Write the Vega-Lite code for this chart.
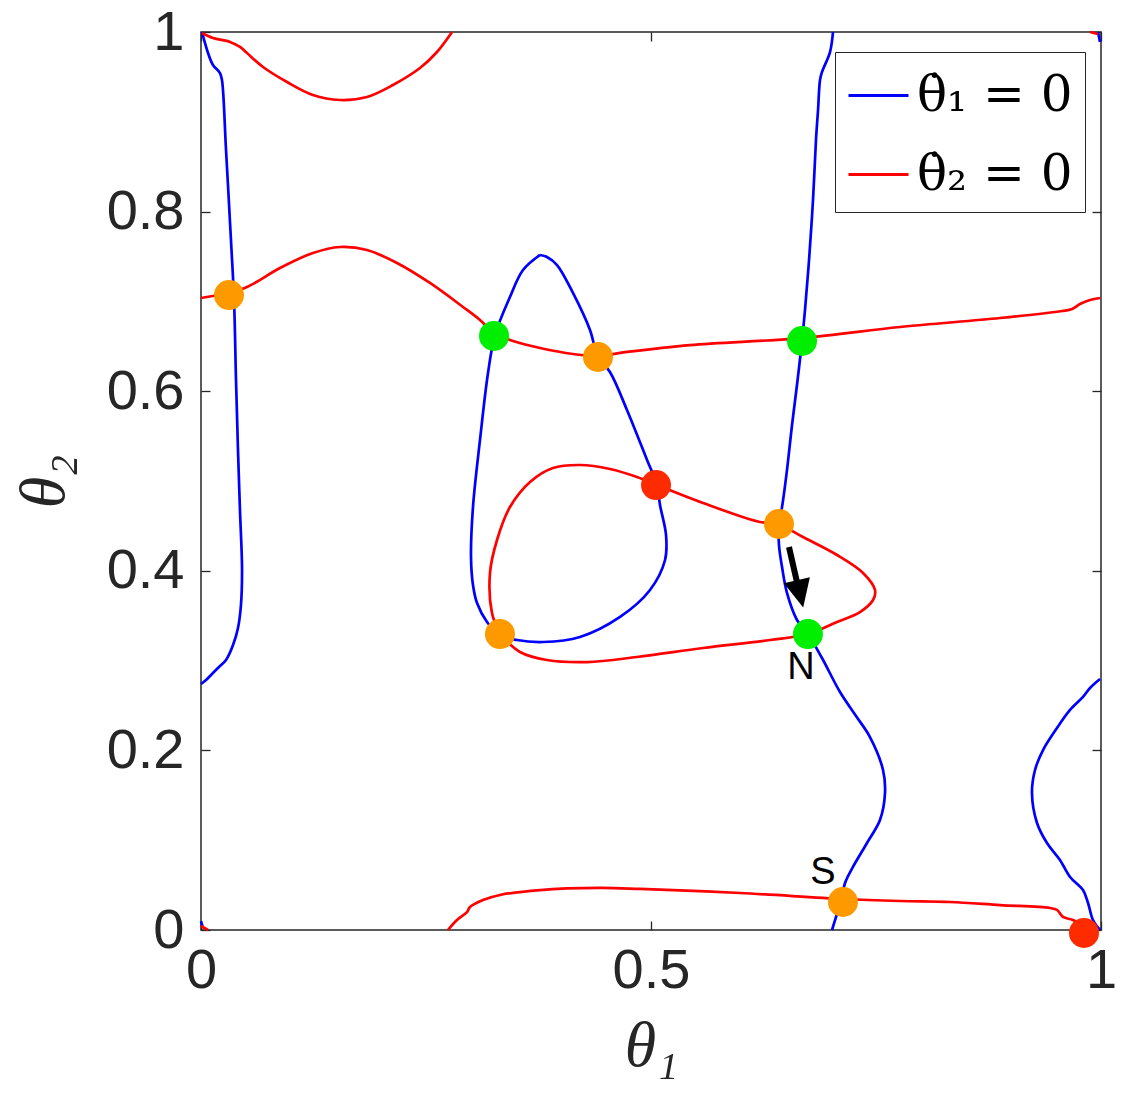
{
  "$schema": "https://vega.github.io/schema/vega-lite/v6.json",
  "width": 900,
  "height": 898,
  "autosize": {"type": "none"},
  "padding": {"left": 201, "top": 32, "right": 24, "bottom": 171},
  "background": "white",
  "config": {"view": {"stroke": "#262626", "strokeWidth": 1.5}},
  "datasets": {
    "curves": [
      {"c":"b","s":"b1","x":0.0011,"y":1.0},{"c":"b","s":"b1","x":0.0044,"y":0.9878},{"c":"b","s":"b1","x":0.0078,"y":0.9766},{"c":"b","s":"b1","x":0.0133,"y":0.9633},{"c":"b","s":"b1","x":0.0211,"y":0.9543},{"c":"b","s":"b1","x":0.0233,"y":0.9465},{"c":"b","s":"b1","x":0.0278,"y":0.8686},{"c":"b","s":"b1","x":0.0333,"y":0.7684},{"c":"b","s":"b1","x":0.0367,"y":0.7016},{"c":"b","s":"b1","x":0.0389,"y":0.6125},{"c":"b","s":"b1","x":0.0411,"y":0.5345},{"c":"b","s":"b1","x":0.0433,"y":0.4677},{"c":"b","s":"b1","x":0.0456,"y":0.4009},{"c":"b","s":"b1","x":0.0444,"y":0.3619},{"c":"b","s":"b1","x":0.0411,"y":0.3363},{"c":"b","s":"b1","x":0.0356,"y":0.3174},{"c":"b","s":"b1","x":0.0278,"y":0.3007},{"c":"b","s":"b1","x":0.0200,"y":0.2929},{"c":"b","s":"b1","x":0.0122,"y":0.2851},{"c":"b","s":"b1","x":0.0056,"y":0.2784},{"c":"b","s":"b1","x":0.0,"y":0.2739},
      {"c":"b","s":"b2","x":0.3767,"y":0.7517},{"c":"b","s":"b2","x":0.3578,"y":0.7350},{"c":"b","s":"b2","x":0.3433,"y":0.7049},{"c":"b","s":"b2","x":0.3267,"y":0.6626},{"c":"b","s":"b2","x":0.3189,"y":0.6203},{"c":"b","s":"b2","x":0.3100,"y":0.5457},{"c":"b","s":"b2","x":0.3022,"y":0.4710},{"c":"b","s":"b2","x":0.3000,"y":0.4154},{"c":"b","s":"b2","x":0.3022,"y":0.3842},{"c":"b","s":"b2","x":0.3067,"y":0.3641},{"c":"b","s":"b2","x":0.3178,"y":0.3430},{"c":"b","s":"b2","x":0.3322,"y":0.3285},{"c":"b","s":"b2","x":0.3511,"y":0.3229},{"c":"b","s":"b2","x":0.3800,"y":0.3207},{"c":"b","s":"b2","x":0.4211,"y":0.3263},{"c":"b","s":"b2","x":0.4656,"y":0.3486},{"c":"b","s":"b2","x":0.4989,"y":0.3786},{"c":"b","s":"b2","x":0.5156,"y":0.4120},{"c":"b","s":"b2","x":0.5167,"y":0.4399},{"c":"b","s":"b2","x":0.5100,"y":0.4733},{"c":"b","s":"b2","x":0.5067,"y":0.4955},{"c":"b","s":"b2","x":0.4956,"y":0.5234},{"c":"b","s":"b2","x":0.4733,"y":0.5791},{"c":"b","s":"b2","x":0.4544,"y":0.6214},{"c":"b","s":"b2","x":0.4411,"y":0.6381},{"c":"b","s":"b2","x":0.4322,"y":0.6682},{"c":"b","s":"b2","x":0.4133,"y":0.7094},{"c":"b","s":"b2","x":0.3956,"y":0.7405},{"c":"b","s":"b2","x":0.3844,"y":0.7494},{"c":"b","s":"b2","x":0.3767,"y":0.7517},
      {"c":"b","s":"b3","x":0.7022,"y":1.0},{"c":"b","s":"b3","x":0.6989,"y":0.9777},{"c":"b","s":"b3","x":0.6900,"y":0.9555},{"c":"b","s":"b3","x":0.6878,"y":0.9465},{"c":"b","s":"b3","x":0.6856,"y":0.9131},{"c":"b","s":"b3","x":0.6833,"y":0.8797},{"c":"b","s":"b3","x":0.6800,"y":0.8129},{"c":"b","s":"b3","x":0.6756,"y":0.7461},{"c":"b","s":"b3","x":0.6711,"y":0.6904},{"c":"b","s":"b3","x":0.6678,"y":0.6559},{"c":"b","s":"b3","x":0.6622,"y":0.6069},{"c":"b","s":"b3","x":0.6567,"y":0.5624},{"c":"b","s":"b3","x":0.6511,"y":0.5122},{"c":"b","s":"b3","x":0.6456,"y":0.4710},{"c":"b","s":"b3","x":0.6422,"y":0.4521},{"c":"b","s":"b3","x":0.6422,"y":0.4287},{"c":"b","s":"b3","x":0.6456,"y":0.4042},{"c":"b","s":"b3","x":0.6511,"y":0.3753},{"c":"b","s":"b3","x":0.6622,"y":0.3452},{"c":"b","s":"b3","x":0.6744,"y":0.3296},{"c":"b","s":"b3","x":0.6900,"y":0.3029},{"c":"b","s":"b3","x":0.7100,"y":0.2650},{"c":"b","s":"b3","x":0.7278,"y":0.2383},{"c":"b","s":"b3","x":0.7433,"y":0.2149},{"c":"b","s":"b3","x":0.7578,"y":0.1782},{"c":"b","s":"b3","x":0.7600,"y":0.1526},{"c":"b","s":"b3","x":0.7544,"y":0.1225},{"c":"b","s":"b3","x":0.7400,"y":0.0969},{"c":"b","s":"b3","x":0.7244,"y":0.0702},{"c":"b","s":"b3","x":0.7156,"y":0.0523},{"c":"b","s":"b3","x":0.7111,"y":0.0312},{"c":"b","s":"b3","x":0.7056,"y":0.0145},{"c":"b","s":"b3","x":0.7011,"y":0.0},
      {"c":"b","s":"b4","x":0.9989,"y":0.2795},{"c":"b","s":"b4","x":0.9878,"y":0.2695},{"c":"b","s":"b4","x":0.9800,"y":0.2595},{"c":"b","s":"b4","x":0.9656,"y":0.2450},{"c":"b","s":"b4","x":0.9511,"y":0.2249},{"c":"b","s":"b4","x":0.9356,"y":0.2004},{"c":"b","s":"b4","x":0.9267,"y":0.1782},{"c":"b","s":"b4","x":0.9233,"y":0.1526},{"c":"b","s":"b4","x":0.9289,"y":0.1192},{"c":"b","s":"b4","x":0.9400,"y":0.0969},{"c":"b","s":"b4","x":0.9544,"y":0.0780},{"c":"b","s":"b4","x":0.9656,"y":0.0590},{"c":"b","s":"b4","x":0.9800,"y":0.0445},{"c":"b","s":"b4","x":0.9856,"y":0.0301},{"c":"b","s":"b4","x":0.9911,"y":0.0111},{"c":"b","s":"b4","x":0.9989,"y":0.0},
      {"c":"b","s":"b5","x":0.9967,"y":1.0},{"c":"b","s":"b5","x":0.9989,"y":0.9889},
      {"c":"b","s":"b6","x":0.0,"y":0.0100},{"c":"b","s":"b6","x":0.0022,"y":0.0022},
      {"c":"r","s":"r1","x":0.0011,"y":0.9989},{"c":"r","s":"r1","x":0.0133,"y":0.9933},{"c":"r","s":"r1","x":0.0322,"y":0.9889},{"c":"r","s":"r1","x":0.0433,"y":0.9833},{"c":"r","s":"r1","x":0.0511,"y":0.9766},{"c":"r","s":"r1","x":0.0689,"y":0.9610},{"c":"r","s":"r1","x":0.0956,"y":0.9443},{"c":"r","s":"r1","x":0.1244,"y":0.9298},{"c":"r","s":"r1","x":0.1544,"y":0.9243},{"c":"r","s":"r1","x":0.1844,"y":0.9276},{"c":"r","s":"r1","x":0.2133,"y":0.9410},{"c":"r","s":"r1","x":0.2433,"y":0.9599},{"c":"r","s":"r1","x":0.2622,"y":0.9777},{"c":"r","s":"r1","x":0.2789,"y":1.0},
      {"c":"r","s":"r2","x":0.0,"y":0.7038},{"c":"r","s":"r2","x":0.0300,"y":0.7094},{"c":"r","s":"r2","x":0.0511,"y":0.7160},{"c":"r","s":"r2","x":0.0878,"y":0.7372},{"c":"r","s":"r2","x":0.1244,"y":0.7539},{"c":"r","s":"r2","x":0.1544,"y":0.7606},{"c":"r","s":"r2","x":0.1844,"y":0.7572},{"c":"r","s":"r2","x":0.2178,"y":0.7428},{"c":"r","s":"r2","x":0.2544,"y":0.7205},{"c":"r","s":"r2","x":0.2911,"y":0.6938},{"c":"r","s":"r2","x":0.3100,"y":0.6793},{"c":"r","s":"r2","x":0.3256,"y":0.6648},{"c":"r","s":"r2","x":0.3467,"y":0.6559},{"c":"r","s":"r2","x":0.3767,"y":0.6481},{"c":"r","s":"r2","x":0.4133,"y":0.6414},{"c":"r","s":"r2","x":0.4411,"y":0.6392},{"c":"r","s":"r2","x":0.4733,"y":0.6437},{"c":"r","s":"r2","x":0.5433,"y":0.6514},{"c":"r","s":"r2","x":0.6678,"y":0.6592},{"c":"r","s":"r2","x":0.7767,"y":0.6715},{"c":"r","s":"r2","x":0.8878,"y":0.6815},{"c":"r","s":"r2","x":0.9567,"y":0.6893},{"c":"r","s":"r2","x":0.9678,"y":0.6915},{"c":"r","s":"r2","x":0.9767,"y":0.6971},{"c":"r","s":"r2","x":0.9878,"y":0.7016},{"c":"r","s":"r2","x":0.9989,"y":0.7038},
      {"c":"r","s":"r3","x":0.3322,"y":0.3296},{"c":"r","s":"r3","x":0.3233,"y":0.3530},{"c":"r","s":"r3","x":0.3211,"y":0.3976},{"c":"r","s":"r3","x":0.3289,"y":0.4343},{"c":"r","s":"r3","x":0.3433,"y":0.4710},{"c":"r","s":"r3","x":0.3656,"y":0.4989},{"c":"r","s":"r3","x":0.3911,"y":0.5145},{"c":"r","s":"r3","x":0.4211,"y":0.5178},{"c":"r","s":"r3","x":0.4544,"y":0.5134},{"c":"r","s":"r3","x":0.4844,"y":0.5045},{"c":"r","s":"r3","x":0.5067,"y":0.4955},{"c":"r","s":"r3","x":0.5578,"y":0.4755},{"c":"r","s":"r3","x":0.6211,"y":0.4543},{"c":"r","s":"r3","x":0.6411,"y":0.4521},{"c":"r","s":"r3","x":0.6689,"y":0.4376},{"c":"r","s":"r3","x":0.7067,"y":0.4176},{"c":"r","s":"r3","x":0.7356,"y":0.3976},{"c":"r","s":"r3","x":0.7489,"y":0.3786},{"c":"r","s":"r3","x":0.7467,"y":0.3675},{"c":"r","s":"r3","x":0.7322,"y":0.3541},{"c":"r","s":"r3","x":0.7067,"y":0.3430},{"c":"r","s":"r3","x":0.6744,"y":0.3296},{"c":"r","s":"r3","x":0.6322,"y":0.3229},{"c":"r","s":"r3","x":0.5578,"y":0.3140},{"c":"r","s":"r3","x":0.4844,"y":0.3040},{"c":"r","s":"r3","x":0.4289,"y":0.2984},{"c":"r","s":"r3","x":0.3844,"y":0.3007},{"c":"r","s":"r3","x":0.3544,"y":0.3096},{"c":"r","s":"r3","x":0.3322,"y":0.3296},
      {"c":"r","s":"r4","x":0.2744,"y":0.0},{"c":"r","s":"r4","x":0.2844,"y":0.0111},{"c":"r","s":"r4","x":0.2956,"y":0.0200},{"c":"r","s":"r4","x":0.2989,"y":0.0256},{"c":"r","s":"r4","x":0.3133,"y":0.0334},{"c":"r","s":"r4","x":0.3322,"y":0.0390},{"c":"r","s":"r4","x":0.3767,"y":0.0445},{"c":"r","s":"r4","x":0.4433,"y":0.0468},{"c":"r","s":"r4","x":0.4878,"y":0.0457},{"c":"r","s":"r4","x":0.5989,"y":0.0412},{"c":"r","s":"r4","x":0.7133,"y":0.0345},{"c":"r","s":"r4","x":0.7767,"y":0.0323},{"c":"r","s":"r4","x":0.8322,"y":0.0312},{"c":"r","s":"r4","x":0.8878,"y":0.0278},{"c":"r","s":"r4","x":0.9433,"y":0.0245},{"c":"r","s":"r4","x":0.9511,"y":0.0223},{"c":"r","s":"r4","x":0.9578,"y":0.0145},{"c":"r","s":"r4","x":0.9689,"y":0.0111},{"c":"r","s":"r4","x":0.9822,"y":0.0033},{"c":"r","s":"r4","x":0.9900,"y":-0.0011},
      {"c":"r","s":"r5","x":0.0,"y":0.0045},{"c":"r","s":"r5","x":0.0078,"y":0.0},
      {"c":"r","s":"r6","x":0.9878,"y":1.0},{"c":"r","s":"r6","x":0.9967,"y":0.9978}
    ],
    "points": [
      {"k":"o","x":0.0311,"y":0.7071},{"k":"o","x":0.4411,"y":0.6381},{"k":"o","x":0.6422,"y":0.4521},{"k":"o","x":0.3322,"y":0.3296},{"k":"o","x":0.7133,"y":0.0312},
      {"k":"g","x":0.3256,"y":0.6615},{"k":"g","x":0.6678,"y":0.6559},{"k":"g","x":0.6744,"y":0.3296},
      {"k":"r","x":0.5056,"y":0.4955},{"k":"r","x":0.9811,"y":-0.0033}
    ],
    "shaft": [{"x":0.6533,"y":0.4265,"x2":0.6622,"y2":0.3875}],
    "head": [{"x":0.6656,"y":0.3742}],
    "labels": [{"t":"N","x":0.6667,"y":0.2918},{"t":"S","x":0.6911,"y":0.0635}]
  },
  "resolve": {"axis": {"x": "independent", "y": "independent"}},
  "layer": [
    {
      "data": {"name": "curves"},
      "mark": {"type": "line", "strokeWidth": 2.7, "interpolate": "catmull-rom"},
      "encoding": {
        "x": {"field": "x", "type": "quantitative", "scale": {"domain": [0, 1], "nice": false, "zero": false},
          "axis": {"orient": "bottom", "values": [0, 0.5, 1], "format": ".1~f", "tickSize": -9, "tickColor": "#262626", "tickWidth": 1.3, "domain": false, "grid": false,
            "labelFont": "Liberation Sans", "labelFontSize": 56, "labelColor": "#262626", "labelPadding": 22, "labelOverlap": false, "labelFlush": false, "labelBound": false,
            "title": "θ₁", "titleFont": "Liberation Serif", "titleFontStyle": "italic", "titleFontWeight": "normal", "titleFontSize": 64, "titleColor": "#262626", "titlePadding": 16}},
        "y": {"field": "y", "type": "quantitative", "scale": {"domain": [0, 1], "nice": false, "zero": false},
          "axis": {"orient": "left", "values": [0, 0.2, 0.4, 0.6, 0.8, 1], "format": ".1~f", "tickSize": -9, "tickColor": "#262626", "tickWidth": 1.3, "domain": false, "grid": false,
            "labelFont": "Liberation Sans", "labelFontSize": 56, "labelColor": "#262626", "labelPadding": 26, "labelOverlap": false, "labelFlush": false, "labelBound": false,
            "title": "θ₂", "titleFont": "Liberation Serif", "titleFontStyle": "italic", "titleFontWeight": "normal", "titleFontSize": 64, "titleColor": "#262626", "titlePadding": 30}},
        "color": {"field": "c", "type": "nominal", "scale": {"domain": ["b", "r"], "range": ["#0000ff", "#ff0000"]},
          "legend": {"title": null, "orient": "none", "legendX": 634, "legendY": 20, "symbolType": "stroke", "symbolSize": 3600, "symbolStrokeWidth": 3,
            "labelExpr": "datum.label == 'b' ? 'θ̇₁ = 0' : 'θ̇₂ = 0'", "labelFont": "DejaVu Serif", "labelFontSize": 50, "labelColor": "black", "labelOffset": 7, "labelLimit": 400,
            "padding": 12, "rowPadding": 22, "strokeColor": "#262626", "fillColor": "white", "cornerRadius": 0}},
        "detail": {"field": "s"},
        "order": {"value": null}
      }
    },
    {
      "data": {"name": "shaft"},
      "mark": {"type": "rule", "strokeWidth": 6, "color": "black"},
      "encoding": {
        "x": {"field": "x", "type": "quantitative", "axis": null},
        "y": {"field": "y", "type": "quantitative", "axis": null},
        "x2": {"field": "x2"},
        "y2": {"field": "y2"}
      }
    },
    {
      "data": {"name": "head"},
      "mark": {"type": "point", "shape": "M-0.95,-1L0.95,-1L0,1Z", "filled": true, "opacity": 1, "color": "black", "size": 784, "angle": -13},
      "encoding": {
        "x": {"field": "x", "type": "quantitative", "axis": null},
        "y": {"field": "y", "type": "quantitative", "axis": null}
      }
    },
    {
      "data": {"name": "points"},
      "mark": {"type": "circle", "size": 900, "opacity": 1},
      "encoding": {
        "x": {"field": "x", "type": "quantitative", "axis": {"orient": "top", "values": [0, 0.5, 1], "labels": false, "tickSize": -9, "tickColor": "#262626", "tickWidth": 1.3, "domain": false, "grid": false, "title": null}},
        "y": {"field": "y", "type": "quantitative", "axis": {"orient": "right", "values": [0, 0.2, 0.4, 0.6, 0.8, 1], "labels": false, "tickSize": -9, "tickColor": "#262626", "tickWidth": 1.3, "domain": false, "grid": false, "title": null}},
        "fill": {"field": "k", "type": "nominal", "scale": {"domain": ["o", "g", "r"], "range": ["#ff9900", "#00ee00", "#ff2b00"]}, "legend": null}
      }
    },
    {
      "data": {"name": "labels"},
      "mark": {"type": "text", "font": "Liberation Sans", "fontSize": 38, "color": "black", "align": "center", "baseline": "middle"},
      "encoding": {
        "x": {"field": "x", "type": "quantitative", "axis": null},
        "y": {"field": "y", "type": "quantitative", "axis": null},
        "text": {"field": "t"}
      }
    }
  ]
}
